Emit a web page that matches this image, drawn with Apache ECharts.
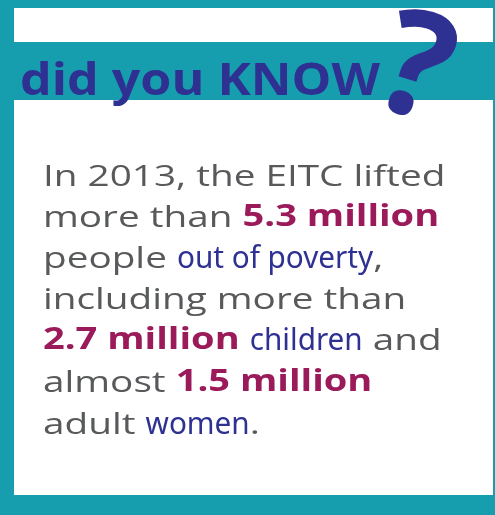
<!DOCTYPE html>
<html>
<head>
<meta charset="utf-8">
<script src="https://cdn.jsdelivr.net/npm/echarts@6/dist/echarts.min.js"></script>
<style>html,body{margin:0;padding:0;background:#fff;}#c{width:495px;height:515px;}</style>
</head>
<body>
<div id="c"></div>
<script>
const headline = ['did you ', 'KNOW'];
const year = 2013;
const program = 'EITC';
const millions = [5.3, 2.7, 1.5];
const groups = ['out of poverty', 'children', 'women'];

const teal = '#179eae';
const navy = '#2e3192';
const maroon = '#9b1b5a';
const grey = '#58595b';

// each line: list of [text, style] where n = normal, b = bold number, c = condensed blue
const lines = [
  [['In ' + year + ', the ' + program + ' lifted', 'n']],
  [['more than ', 'n'], [millions[0] + ' million', 'b']],
  [['people ', 'n'], [groups[0], 'c'], [',', 'n']],
  [['including more than', 'n']],
  [[millions[1] + ' million', 'b'], [' ', 'n'], [groups[1], 'c'], [' and', 'n']],
  [['almost ', 'n'], [millions[2] + ' million', 'b']],
  [['adult ', 'n'], [groups[2], 'c'], ['.', 'n']]
];

const styles = {
  n: {font: '30px "Open Sans", sans-serif', fill: grey, sx: 1.29},
  b: {font: 'bold 29.5px "Open Sans", sans-serif', fill: maroon, sx: 1.29},
  c: {font: '30px "Noto Sans", sans-serif', fill: navy, sx: 0.99}
};

const ctx = document.createElement('canvas').getContext('2d');
function textWidth(t, font) { ctx.font = font; return ctx.measureText(t).width; }

const chart = echarts.init(document.getElementById('c'), null, {renderer: 'canvas'});
const elements = [
  {type: 'rect', shape: {x: 0, y: 0, width: 495, height: 515}, style: {fill: teal}},
  {type: 'rect', shape: {x: 14, y: 8, width: 479, height: 487}, style: {fill: '#ffffff'}},
  {type: 'rect', shape: {x: 14, y: 42, width: 481, height: 58}, style: {fill: teal}},
  {type: 'text', x: 20, y: 82, scaleX: 1.14, style: {text: headline.join(''), fill: navy, font: 'bold 44px "Open Sans", sans-serif', verticalAlign: 'middle', align: 'left'}},
  {type: 'text', x: 415, y: 74, rotation: -0.3, scaleY: 1.02, style: {text: '?', fill: navy, font: 'bold 144px "Open Sans", sans-serif', verticalAlign: 'middle', align: 'center'}}
];
const baselines = [188, 229, 270, 311, 352, 394, 436];
lines.forEach((segs, i) => {
  let x = 43;
  segs.forEach(([t, s]) => {
    const st = styles[s];
    elements.push({
      type: 'text', x: x, y: baselines[i] - 11, scaleX: st.sx,
      style: {text: t, fill: st.fill, font: st.font, verticalAlign: 'middle', align: 'left'}
    });
    x += textWidth(t, st.font) * st.sx;
  });
});
chart.setOption({graphic: {elements: elements}});
</script>
</body>
</html>
